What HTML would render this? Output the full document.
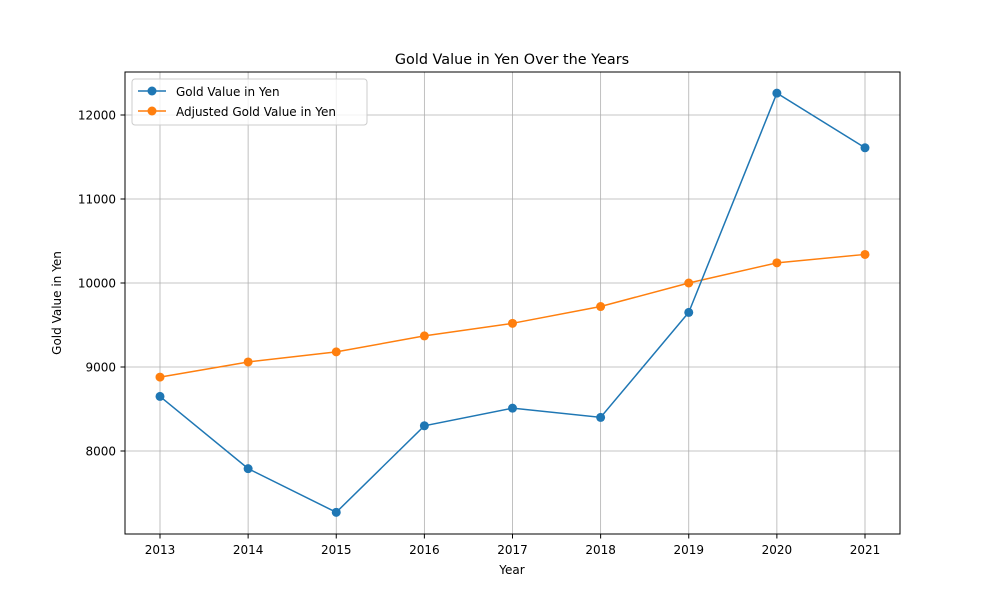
<!DOCTYPE html>
<html><head><meta charset="utf-8"><style>
body{margin:0;background:#fff;}
svg text{font-family:"DejaVu Sans","Liberation Sans",sans-serif;fill:#000;}
</style></head><body>
<svg id="chart" width="1000" height="600" xmlns="http://www.w3.org/2000/svg">
<rect width="1000" height="600" fill="#fff"/>
<g id="grid"></g>
<g id="series"></g>
<rect x="125" y="72" width="775" height="462" fill="none" stroke="#000" stroke-width="1"/>
<g id="axes"></g>
<text x="512" y="64" text-anchor="middle" font-size="14.4">Gold Value in Yen Over the Years</text>
<text x="512" y="574" text-anchor="middle" font-size="12">Year</text>
<text x="61" y="303" text-anchor="middle" font-size="12" transform="rotate(-90 61 303)">Gold Value in Yen</text>
<g>
<rect x="132" y="79" width="235" height="46" rx="3" fill="#fff" fill-opacity="0.8" stroke="#ccc"/>
<g>
<line x1="138" y1="91" x2="166" y2="91" stroke="#1f77b4" stroke-width="1.5"/><circle cx="152" cy="91" r="4.5" fill="#1f77b4"/>
<text x="176" y="96" font-size="12">Gold Value in Yen</text></g>
<g>
<line x1="138" y1="111" x2="166" y2="111" stroke="#ff7f0e" stroke-width="1.5"/><circle cx="152" cy="111" r="4.5" fill="#ff7f0e"/>
<text x="176" y="116" font-size="12">Adjusted Gold Value in Yen</text></g>
</g>
</svg>
<script>
const years=[2013,2014,2015,2016,2017,2018,2019,2020,2021];
const goldValues=[8650,7790,7270,8300,8510,8400,9650,12260,11610];
const adjustedValues=[8880,9060,9180,9370,9520,9720,10000,10240,10340];
const yTicks=[8000,9000,10000,11000,12000];
const NS="http://www.w3.org/2000/svg";
function x(i){return 160+(865-160)*(i/(years.length-1));}
function y(v){return 451-(v-8000)*0.084;}
function mk(tag,attrs,parent){const e=document.createElementNS(NS,tag);for(const k in attrs)e.setAttribute(k,attrs[k]);parent.appendChild(e);return e;}
const grid=document.getElementById('grid'),axes=document.getElementById('axes'),series=document.getElementById('series');
years.forEach((yr,i)=>{
 const g=mk('line',{x1:x(i),x2:x(i),y1:72,y2:534,stroke:'#b0b0b0','stroke-width':0.8},grid);
 
 
 mk('line',{x1:x(i),x2:x(i),y1:534,y2:538.5,stroke:'#000'},axes);
 const t=mk('text',{x:x(i),y:554,'text-anchor':'middle','font-size':12},axes);t.textContent=yr;
 
 
});
yTicks.forEach(v=>{
 const g=mk('line',{x1:125,x2:900,y1:y(v),y2:y(v),stroke:'#b0b0b0','stroke-width':0.8},grid);
 
 
 mk('line',{x1:120.5,x2:125,y1:y(v),y2:y(v),stroke:'#000'},axes);
 const t=mk('text',{x:116,y:y(v)+4.5,'text-anchor':'end','font-size':12},axes);t.textContent=v;
 
 
});
function draw(vals,color,name){
 const p=mk('polyline',{points:vals.map((v,i)=>x(i)+','+y(v)).join(' '),fill:'none',stroke:color,'stroke-width':1.5},series);
 
 
 vals.forEach((v,i)=>{const c=mk('circle',{cx:x(i),cy:y(v),r:4.5,fill:color},series);
 
 });
}
draw(adjustedValues,'#ff7f0e','adjusted-gold');
draw(goldValues,'#1f77b4','gold');
</script>
</body></html>
